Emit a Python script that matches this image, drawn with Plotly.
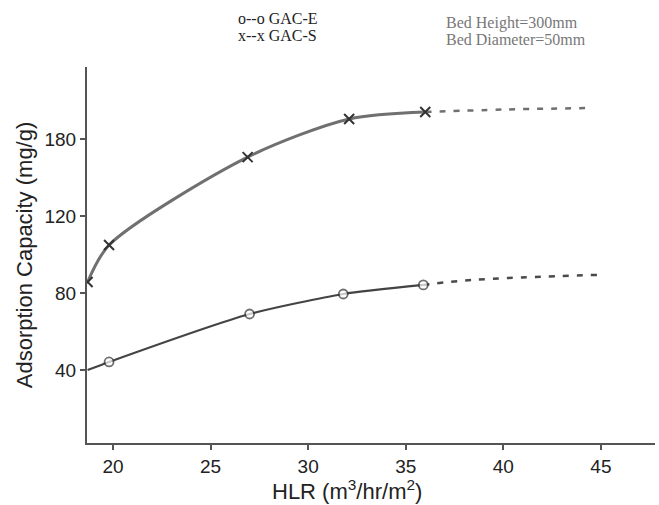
import plotly.graph_objects as go

# GAC-S (x markers)
hlr_s = [18.7, 19.8, 26.9, 32.1, 36.0]
cap_s = [85.7, 104.9, 150.6, 170.4, 174.0]
hlr_s_ext = [36.0, 40.0, 44.6]
cap_s_ext = [174.0, 175.3, 176.1]

# GAC-E (o markers)
hlr_e = [18.7, 19.8, 27.0, 31.8, 35.9]
cap_e = [40.0, 44.2, 69.1, 79.5, 84.2]
hlr_e_ext = [35.9, 38.4, 44.8]
cap_e_ext = [84.2, 86.8, 89.4]

x_ticks = [20, 25, 30, 35, 40, 45]
y_tickvals = [40, 80, 120, 160]
y_ticktext = ["40", "80", "120", "180"]

fig = go.Figure()

fig.add_trace(go.Scatter(x=hlr_s_ext, y=cap_s_ext, mode="lines",
                         line=dict(color="#707070", width=2.5, dash="6px,8px", shape="spline"),
                         showlegend=False, hoverinfo="skip"))
fig.add_trace(go.Scatter(x=hlr_e_ext, y=cap_e_ext, mode="lines",
                         line=dict(color="#4a4a4a", width=2.5, dash="6px,8px", shape="spline"),
                         showlegend=False, hoverinfo="skip"))

fig.add_trace(go.Scatter(x=hlr_s, y=cap_s, mode="lines+markers", name="GAC-S",
                         line=dict(color="#707070", width=3, shape="spline", smoothing=0.8),
                         marker=dict(symbol="x-thin-open", size=10, color="#333",
                                     line=dict(color="#333", width=2)),
                         showlegend=False))
fig.add_trace(go.Scatter(x=hlr_e, y=cap_e, mode="lines+markers", name="GAC-E",
                         line=dict(color="#444", width=2.2, shape="spline", smoothing=0.6),
                         marker=dict(symbol="circle", size=[0, 9, 9, 9, 9], color="white",
                                     line=dict(color="#333", width=1.8)),
                         showlegend=False))

sans = "Liberation Sans, Arial, sans-serif"
font_ax = dict(family=sans, size=19, color="#222")

fig.update_layout(
    width=659, height=505,
    margin=dict(l=87, r=4, t=67, b=62),
    plot_bgcolor="white", paper_bgcolor="white",
    xaxis=dict(range=[18.67, 47.77], tickvals=x_ticks, ticks="outside", ticklen=5,
               tickcolor="#555", tickwidth=2, showgrid=False, zeroline=False,
               showline=True, linecolor="#555", linewidth=2,
               tickfont=font_ax),
    yaxis=dict(range=[2.1, 197.4], tickvals=y_tickvals, ticktext=y_ticktext,
               ticks="outside", ticklen=5, tickcolor="#555", tickwidth=2,
               showgrid=False, zeroline=False, showline=True, linecolor="#555", linewidth=2,
               tickfont=font_ax,
               title=dict(text="Adsorption Capacity (mg/g)",
                          font=dict(family=sans, size=22, color="#222"),
                          standoff=6)),
)

# x-axis title (slightly left of centre, as in the reference)
fig.add_annotation(x=0.458, y=-0.125, xref="paper", yref="paper", xanchor="center", yanchor="middle",
                   text="HLR (m<sup>3</sup>/hr/m<sup>2</sup>)", showarrow=False,
                   font=dict(family=sans, size=22, color="#222"))

serif = "Liberation Serif, Times New Roman, serif"
fig.add_annotation(x=0.262, y=1.130, xref="paper", yref="paper", xanchor="left", yanchor="middle",
                   text="o--o GAC-E", showarrow=False, font=dict(family=serif, size=16, color="#222"))
fig.add_annotation(x=0.262, y=1.085, xref="paper", yref="paper", xanchor="left", yanchor="middle",
                   text="x--x GAC-S", showarrow=False, font=dict(family=serif, size=16, color="#222"))
fig.add_annotation(x=0.628, y=1.117, xref="paper", yref="paper", xanchor="left", yanchor="middle",
                   text="Bed Height=300mm", showarrow=False, font=dict(family=serif, size=16, color="#777"))
fig.add_annotation(x=0.628, y=1.072, xref="paper", yref="paper", xanchor="left", yanchor="middle",
                   text="Bed Diameter=50mm", showarrow=False, font=dict(family=serif, size=16, color="#777"))

fig.write_html("out.html")
